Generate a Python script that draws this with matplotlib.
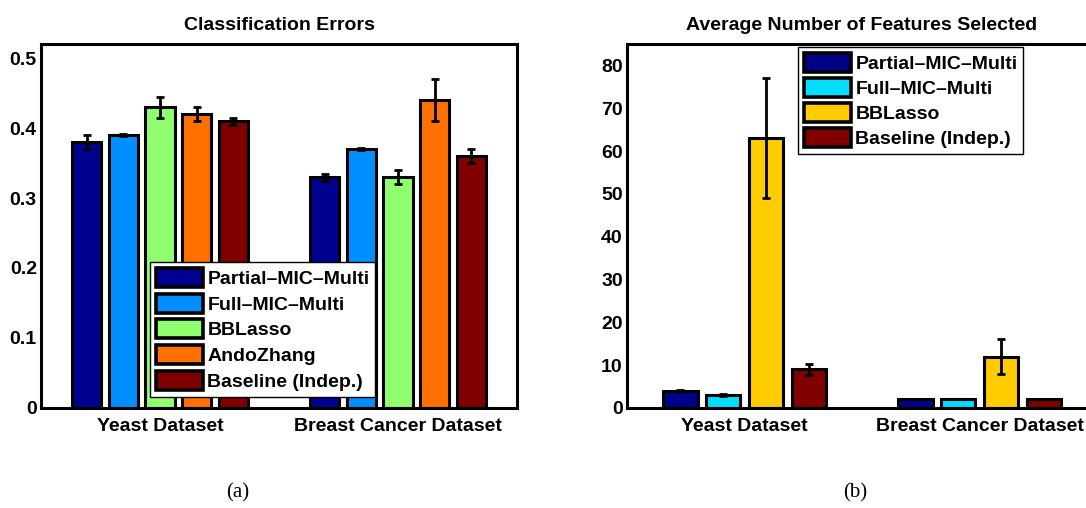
import matplotlib
matplotlib.use("Agg")
import matplotlib.pyplot as plt
import numpy as np

plt.rcParams['font.family'] = ['Liberation Sans', 'DejaVu Sans']
plt.rcParams['font.weight'] = 'bold'

groups = ["Yeast Dataset", "Breast Cancer Dataset"]

# (a) Classification errors
methods_a = ["Partial\u2013MIC\u2013Multi", "Full\u2013MIC\u2013Multi", "BBLasso", "AndoZhang", "Baseline (Indep.)"]
err_vals = [[0.38, 0.33],
            [0.39, 0.37],
            [0.43, 0.33],
            [0.42, 0.44],
            [0.41, 0.36]]
err_sd = [[0.010, 0.005],
          [0.002, 0.002],
          [0.015, 0.010],
          [0.010, 0.030],
          [0.005, 0.010]]
colors_a = ["#00008F", "#008FFF", "#8FFF70", "#FF7000", "#800000"]

# (b) Average number of features selected
methods_b = ["Partial\u2013MIC\u2013Multi", "Full\u2013MIC\u2013Multi", "BBLasso", "Baseline (Indep.)"]
feat_vals = [[4, 2],
             [3, 2],
             [63, 12],
             [9, 2]]
feat_sd = [[0.3, 0.0],
           [0.2, 0.0],
           [14, 4],
           [1.2, 0.0]]
colors_b = ["#000088", "#00DDFF", "#FFCC00", "#800000"]

W, H = 1086, 508
FS = 14
fig = plt.figure(figsize=(W / 100, H / 100), dpi=100)


def draw(ax, vals, sds, names, colors, ylim, yticks, ticklabels):
    n = len(vals)
    x = np.arange(1, len(groups) + 1)
    gw = min(0.8, n / (n + 1.5))
    step = gw / n
    for i in range(n):
        pos = x - gw / 2 + step * (i + 0.5)
        ax.bar(pos, vals[i], width=step * 0.8, color=colors[i], edgecolor='black',
               linewidth=2.2, label=names[i], zorder=2)
        sd = np.array(sds[i])
        mask = sd > 0
        if mask.any():
            ax.errorbar(pos[mask], np.array(vals[i])[mask], yerr=sd[mask], fmt='none',
                        ecolor='black', elinewidth=2, capsize=3, capthick=2, zorder=3)
    ax.set_xlim(0.5, 2.5)
    ax.set_ylim(*ylim)
    ax.set_xticks(x)
    ax.set_xticklabels(groups, fontsize=FS, fontweight='bold')
    ax.set_yticks(yticks)
    ax.set_yticklabels(ticklabels, fontsize=FS, fontweight='bold')
    ax.tick_params(direction='in', length=0, pad=3)
    ax.tick_params(axis='x', pad=7)
    for s in ax.spines.values():
        s.set_linewidth(2.2)


def legend(ax, x0, y0, bp, ls):
    leg = ax.legend(loc='upper left', bbox_to_anchor=(x0, y0),
                    prop={'size': FS, 'weight': 'bold'}, frameon=True, fancybox=False,
                    edgecolor='black', framealpha=1, borderpad=bp, labelspacing=ls,
                    handlelength=2.4, handleheight=1.15, handletextpad=0.25, borderaxespad=0)
    leg.get_frame().set_linewidth(1.0)
    for h in leg.legend_handles:
        h.set_linewidth(2.6)
    return leg


ax1 = fig.add_axes([41 / W, (H - 408) / H, 476 / W, 364 / H])
draw(ax1, err_vals, err_sd, methods_a, colors_a, (0, 0.52),
     [0, 0.1, 0.2, 0.3, 0.4, 0.5], ["0", "0.1", "0.2", "0.3", "0.4", "0.5"])
ax1.set_title("Classification Errors", fontsize=FS, fontweight='bold', pad=10)
legend(ax1, (150 - 41) / 476, (408 - 262) / 364, 0.3, 0.28)

ax2 = fig.add_axes([627 / W, (H - 408) / H, 470 / W, 364 / H])
draw(ax2, feat_vals, feat_sd, methods_b, colors_b, (0, 85),
     [0, 10, 20, 30, 40, 50, 60, 70, 80], ["0", "10", "20", "30", "40", "50", "60", "70", "80"])
ax2.set_title("Average Number of Features Selected", fontsize=FS, fontweight='bold', pad=10)
legend(ax2, (798 - 627) / 470, (408 - 47) / 364, 0.3, 0.25)

fig.text(238 / W, 1 - 493 / H, "(a)", fontsize=15, family=['Liberation Serif'],
         fontweight='normal', ha='center', va='center')
fig.text(855 / W, 1 - 493 / H, "(b)", fontsize=15, family=['Liberation Serif'],
         fontweight='normal', ha='center', va='center')

fig.savefig("out.png", dpi=100)
